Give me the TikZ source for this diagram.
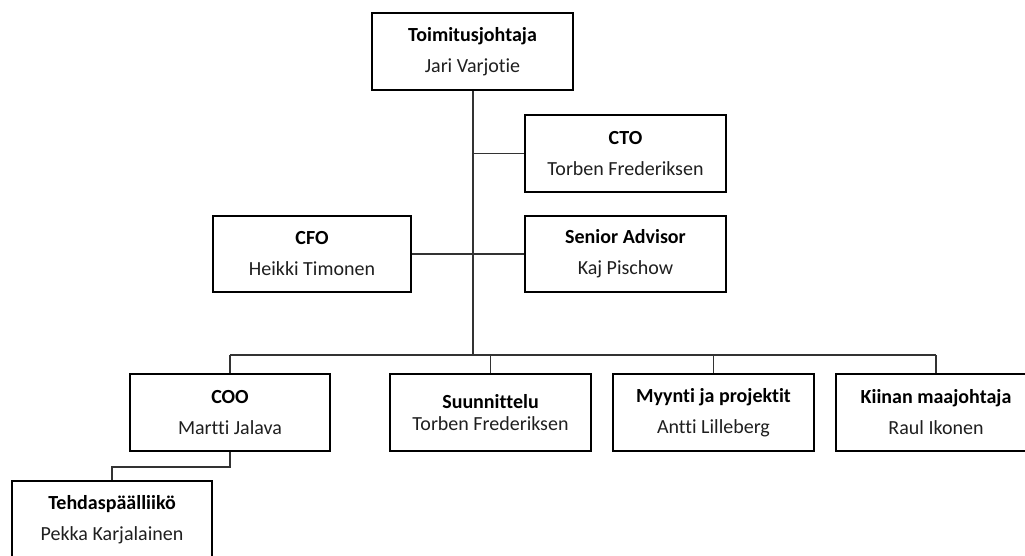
\documentclass[tikz,border=0pt]{standalone}
\usepackage{fontspec}
\setmainfont{Carlito}[Ligatures={CommonOff,ContextualOff}]
\begin{document}
\begin{tikzpicture}[x=1pt,y=-1pt,
  box/.style={draw=black, line width=2pt, fill=white, minimum width=201pt, minimum height=77pt,
    inner sep=0pt, align=center, text=black!88, font=\fontsize{20}{31}\selectfont},
  conn/.style={draw=black!80, line width=1.2pt}]
\useasboundingbox (0,0) rectangle (1025,555);
\clip (0,0) rectangle (1025,555);
\coordinate (ctoj) at (473,153.5);
\coordinate (busl) at (230,355);
\coordinate (busr) at (936,355);
\coordinate (busm) at (473,355);
\coordinate (elbow1) at (230,467);
\coordinate (elbow2) at (112,467);
\node[box] (ceo) at (472.5,51.5) {\textbf{\color{black}Toimitusjohtaja}\\Jari Varjotie};
\node[box] (cto) at (625.5,153.5) {\textbf{\color{black}CTO}\\Torben Frederiksen};
\node[box, minimum width=198pt, minimum height=76pt] (cfo) at (312,254) {\textbf{\color{black}CFO}\\Heikki Timonen};
\node[box, minimum height=76pt] (sa) at (625.5,254) {\textbf{\color{black}Senior Advisor}\\Kaj Pischow};
\node[box, minimum width=200pt] (coo) at (230,412.5) {\textbf{\color{black}COO}\\Martti Jalava};
\node[box, font=\fontsize{20}{22}\selectfont] (suun) at (490.5,412.5) {\textbf{\color{black}Suunnittelu}\\Torben Frederiksen};
\node[box] (myy) at (713.5,412.5) {\textbf{\color{black}Myynti ja projektit}\\Antti Lilleberg};
\node[box] (kii) at (936,412.5) {\textbf{\color{black}Kiinan maajohtaja}\\Raul Ikonen};
\node[box, minimum width=200pt] (teh) at (112,519.5) {\textbf{\color{black}Tehdaspäälliikö}\\Pekka Karjalainen};
\draw[conn] (ceo.south -| busm) -- (busm);
\draw[conn] (ctoj) -- (cto.west);
\draw[conn] (cfo.east) -- (sa.west);
\draw[conn] (busl) -- (busr);
\draw[conn] (busl) -- (coo.north);
\draw[conn] (suun.north |- busm) -- (suun.north);
\draw[conn] (myy.north |- busm) -- (myy.north);
\draw[conn] (busr) -- (kii.north);
\draw[conn] (coo.south) -- (elbow1) -- (elbow2) -- (teh.north);
\end{tikzpicture}
\end{document}
